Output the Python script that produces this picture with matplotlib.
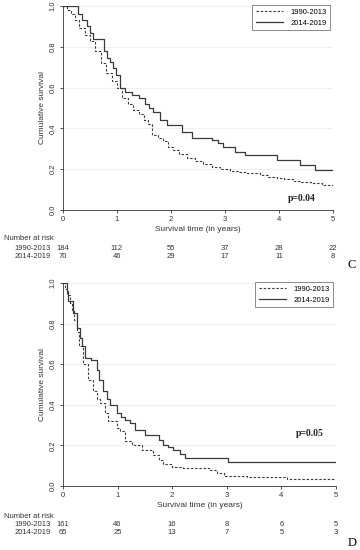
import matplotlib
matplotlib.use("Agg")
from matplotlib import pyplot as plt
from matplotlib.transforms import blended_transform_factory

plt.rcParams['font.family'] = ['Liberation Sans', 'DejaVu Sans']

# panel C
c_old_t = [0, 0.07, 0.15, 0.22, 0.3, 0.4, 0.5, 0.6, 0.7, 0.8, 0.9, 1.0, 1.1, 1.2, 1.3, 1.4, 1.5,
           1.58, 1.64, 1.75, 1.86, 1.95, 2.04, 2.15, 2.29, 2.45, 2.6, 2.75, 2.9, 3.09, 3.25, 3.4,
           3.65, 3.8, 3.96, 4.1, 4.25, 4.39, 4.6, 4.8, 5.0]
c_old_s = [1.0, 0.98, 0.96, 0.93, 0.89, 0.86, 0.83, 0.78, 0.72, 0.67, 0.63, 0.60, 0.55, 0.52, 0.49,
           0.47, 0.44, 0.42, 0.37, 0.355, 0.34, 0.31, 0.295, 0.275, 0.255, 0.24, 0.225, 0.21, 0.2,
           0.19, 0.185, 0.18, 0.17, 0.163, 0.157, 0.15, 0.143, 0.138, 0.13, 0.124, 0.118]
c_new_t = [0, 0.28, 0.36, 0.44, 0.5, 0.56, 0.75, 0.81, 0.87, 0.93, 0.98, 1.06, 1.15, 1.27, 1.4,
           1.52, 1.6, 1.67, 1.8, 1.92, 2.2, 2.38, 2.75, 2.87, 2.97, 3.19, 3.37, 3.96, 4.39, 4.67, 5.0]
c_new_s = [1.0, 0.96, 0.93, 0.90, 0.87, 0.84, 0.78, 0.745, 0.727, 0.695, 0.66, 0.60, 0.58, 0.563,
           0.55, 0.52, 0.50, 0.48, 0.44, 0.417, 0.38, 0.355, 0.343, 0.327, 0.307, 0.286, 0.268,
           0.245, 0.22, 0.196, 0.196]
c_risk_old = [184, 112, 55, 37, 28, 22]
c_risk_new = [70, 46, 29, 17, 11, 8]

# panel D
d_old_t = [0, 0.04, 0.08, 0.12, 0.16, 0.2, 0.25, 0.3, 0.37, 0.46, 0.55, 0.62, 0.68, 0.77, 0.83,
           0.98, 1.04, 1.14, 1.26, 1.44, 1.65, 1.75, 1.84, 2.0, 2.2, 2.69, 2.82, 2.94, 3.37, 4.1, 5.0]
d_old_s = [1.0, 0.97, 0.94, 0.9, 0.86, 0.82, 0.76, 0.69, 0.60, 0.52, 0.47, 0.43, 0.41, 0.36, 0.32,
           0.285, 0.27, 0.22, 0.20, 0.177, 0.153, 0.13, 0.11, 0.095, 0.087, 0.079, 0.063, 0.05,
           0.043, 0.033, 0.03]
d_new_t = [0, 0.068, 0.097, 0.19, 0.25, 0.31, 0.34, 0.40, 0.51, 0.62, 0.66, 0.74, 0.80, 0.86,
           0.98, 1.07, 1.14, 1.23, 1.32, 1.5, 1.75, 1.84, 1.93, 2.02, 2.14, 2.23, 3.03, 5.0]
d_new_s = [1.0, 0.96, 0.91, 0.85, 0.78, 0.73, 0.69, 0.63, 0.62, 0.57, 0.52, 0.47, 0.43, 0.40,
           0.36, 0.34, 0.325, 0.31, 0.276, 0.25, 0.227, 0.20, 0.19, 0.177, 0.16, 0.136, 0.12, 0.12]
d_risk_old = [161, 46, 16, 8, 6, 5]
d_risk_new = [65, 25, 13, 7, 5, 3]

years = [0, 1, 2, 3, 4, 5]
groups = ['1990-2013', '2014-2019']

fig = plt.figure(figsize=(3.6, 5.5), dpi=100)

def panel(rect, old_t, old_s, new_t, new_s, risk_old, risk_new, pval, ppos, letter, letter_y, rows_y):
    ax = fig.add_axes(rect)
    ax.step(old_t, old_s, where='post', color='#3a3a3a', lw=0.8, ls=(0, (2.2, 1.6)), label=groups[0])
    ax.step(new_t, new_s, where='post', color='#3a3a3a', lw=0.9, label=groups[1])
    ax.set_xlim(0, 5)
    ax.set_ylim(0, 1)
    ax.set_xticks(years)
    ax.set_yticks([0, 0.2, 0.4, 0.6, 0.8, 1.0])
    ax.set_yticklabels(['0.0', '0.2', '0.4', '0.6', '0.8', '1.0'], rotation=90, va='center')
    for y in [0.2, 0.4, 0.6, 0.8, 1.0]:
        ax.axhline(y, color='#ececec', lw=0.6, zorder=0)
    ax.tick_params(labelsize=5.5, length=2.5, width=0.6, pad=2, colors='#333333')
    ax.spines['top'].set_visible(False)
    ax.spines['right'].set_visible(False)
    for s in ['left', 'bottom']:
        ax.spines[s].set_linewidth(0.6)
        ax.spines[s].set_color('#333333')
    ax.set_ylabel('Cumulative survival', fontsize=6, color='#333333', labelpad=3)
    ax.set_xlabel('Survival time (in years)', fontsize=6, color='#333333', labelpad=2)
    leg = ax.legend(loc='upper right', fontsize=5.5, frameon=True, fancybox=False,
                    handlelength=3.6, handletextpad=0.9, borderpad=0.5, labelspacing=0.4,
                    borderaxespad=0, bbox_to_anchor=(0.99, 1.005))
    leg.get_frame().set_edgecolor('#555555')
    leg.get_frame().set_linewidth(0.6)
    ax.text(ppos[0], ppos[1], pval, fontsize=7, fontweight='bold', family='Liberation Serif',
            ha='center', va='center', color='#222222')
    tr = blended_transform_factory(ax.transData, fig.transFigure)
    fig.text(0.012, rows_y[0], 'Number at risk', fontsize=5.5, color='#333333', va='center')
    fig.text(0.09, rows_y[1], groups[0], fontsize=5.5, color='#333333', va='center', ha='center')
    fig.text(0.09, rows_y[2], groups[1], fontsize=5.5, color='#333333', va='center', ha='center')
    for x, a, b in zip(years, risk_old, risk_new):
        ax.text(x, rows_y[1], str(a), transform=tr, fontsize=5.5, ha='center', va='center', color='#333333')
        ax.text(x, rows_y[2], str(b), transform=tr, fontsize=5.5, ha='center', va='center', color='#333333')
    fig.text(0.977, letter_y, letter, fontsize=9, family='Liberation Serif', ha='center', va='center')
    return ax

panel([0.175, 1 - 210 / 550, 270 / 360, 204 / 550], c_old_t, c_old_s, c_new_t, c_new_s,
      c_risk_old, c_risk_new, 'p=0.04', (4.43, 0.055), 'C', 1 - 265 / 550,
      [1 - 239 / 550, 1 - 248 / 550, 1 - 257 / 550])
panel([0.175, 1 - 486 / 550, 273 / 360, 203 / 550], d_old_t, d_old_s, d_new_t, d_new_s,
      d_risk_old, d_risk_new, 'p=0.05', (4.52, 0.26), 'D', 1 - 543 / 550,
      [1 - 516.5 / 550, 1 - 525 / 550, 1 - 533 / 550])

fig.savefig('out.png', dpi=100)
